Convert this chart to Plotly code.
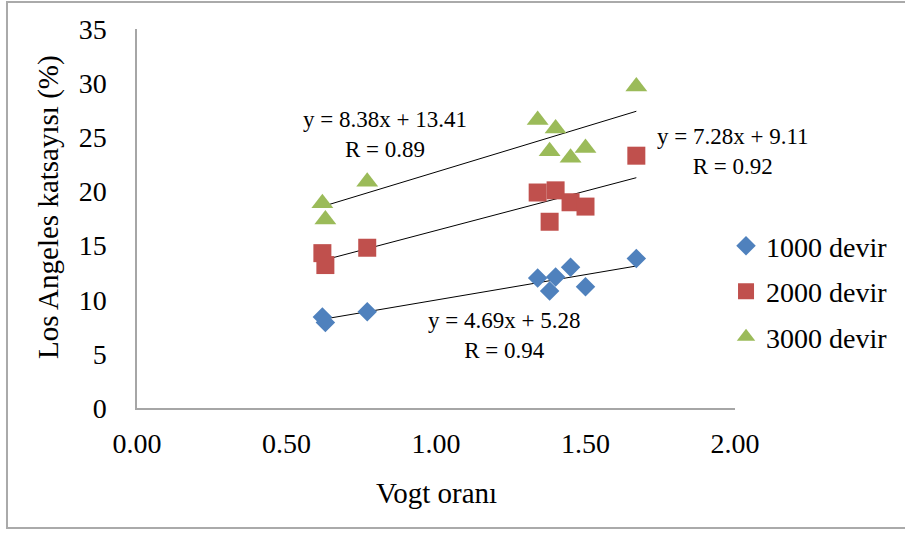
import numpy as np
import plotly.graph_objects as go

# ---- data ----
x_1000 = [0.62, 0.63, 0.77, 1.34, 1.38, 1.40, 1.45, 1.50, 1.67]
y_1000 = [8.4, 7.9, 8.9, 12.0, 10.8, 12.1, 13.0, 11.2, 13.8]

x_2000 = [0.62, 0.63, 0.77, 1.34, 1.38, 1.40, 1.45, 1.50, 1.67]
y_2000 = [14.3, 13.2, 14.8, 19.9, 17.2, 20.1, 19.0, 18.6, 23.3]

x_3000 = [0.62, 0.63, 0.77, 1.34, 1.38, 1.40, 1.45, 1.50, 1.67]
y_3000 = [18.9, 17.4, 20.9, 26.6, 23.7, 25.8, 23.1, 24.0, 29.7]

series_names = ["1000 devir", "2000 devir", "3000 devir"]
slopes = [4.69, 7.28, 8.38]
intercepts = [5.28, 9.11, 13.41]
r_values = [0.94, 0.92, 0.89]

x_ticks = [0, 0.5, 1.0, 1.5, 2.0]
x_tick_labels = ["0.00", "0.50", "1.00", "1.50", "2.00"]
y_ticks = [0, 5, 10, 15, 20, 25, 30, 35]

# ---- styles ----
FONT = "Liberation Serif"
colors = ["#4F81BD", "#C0504D", "#9BBB59"]
symbols = ["diamond", "square", "triangle-up"]
sizes = [15, 18, 19]

fig = go.Figure()

xs = [x_1000, x_2000, x_3000]
ys = [y_1000, y_2000, y_3000]

# trend lines
for i in range(3):
    xr = np.array([min(xs[i]), max(xs[i])])
    fig.add_trace(go.Scatter(
        x=xr, y=slopes[i] * xr + intercepts[i], mode="lines",
        line=dict(color="black", width=1), showlegend=False, hoverinfo="skip"))

for i in range(3):
    fig.add_trace(go.Scatter(
        x=xs[i], y=ys[i], mode="markers", name=series_names[i],
        legendgroup=series_names[i],
        marker=dict(symbol=symbols[i], size=sizes[i], color=colors[i],
                    line=dict(width=0))))

# equation annotations
ann_pos = [(1.227, 6.74), (1.993, 23.7), (0.829, 25.3)]
for i in range(3):
    fig.add_annotation(
        x=ann_pos[i][0], y=ann_pos[i][1], xref="x", yref="y",
        xanchor="center", yanchor="middle",
        text=f"y = {slopes[i]:.2f}x + {intercepts[i]:.2f}<br>R = {r_values[i]:.2f}",
        showarrow=False, align="center",
        font=dict(family=FONT, size=23, color="black"))

# y-axis title
fig.add_annotation(
    x=-0.149, y=0.53, xref="paper", yref="paper", text="Los Angeles katsayısı (%)",
    xanchor="center", yanchor="middle",
    textangle=-90, showarrow=False, font=dict(family=FONT, size=29, color="black"))
# x-axis title
fig.add_annotation(
    x=0.5, y=-0.225, xref="paper", yref="paper", text="Vogt oranı",
    xanchor="center", yanchor="middle",
    showarrow=False, font=dict(family=FONT, size=29, color="black"))

# outer border
fig.add_shape(type="rect", xref="paper", yref="paper",
              x0=-0.2174, x1=1.40, y0=-0.3166, y1=1.0712,
              line=dict(color="#AAAAAA", width=2), fillcolor="rgba(0,0,0,0)")

fig.update_layout(
    width=905, height=534,
    margin=dict(l=137, r=170, t=29, b=126, autoexpand=False),
    paper_bgcolor="white", plot_bgcolor="white",
    font=dict(family=FONT, size=28, color="black"),
    showlegend=True,
    legend=dict(x=0.985, y=0.493, xanchor="left", yanchor="top",
                font=dict(family=FONT, size=28, color="black"),
                tracegroupgap=6, itemwidth=30, bgcolor="rgba(0,0,0,0)"),
    xaxis=dict(range=[0, 2], tickvals=x_ticks, ticktext=x_tick_labels,
               showgrid=False, zeroline=False, showline=True,
               linecolor="#A6A6A6", linewidth=1.5, ticks="",
               ticklabelstandoff=10,
               tickfont=dict(family=FONT, size=28, color="black")),
    yaxis=dict(range=[0, 35], tickvals=y_ticks,
               showgrid=False, zeroline=False, showline=True,
               linecolor="#A6A6A6", linewidth=1.5, ticks="",
               ticklabelstandoff=23,
               tickfont=dict(family=FONT, size=28, color="black")),
)

fig.write_html("out.html", config={"displayModeBar": False},
               post_script="document.body.style.margin='0';")
